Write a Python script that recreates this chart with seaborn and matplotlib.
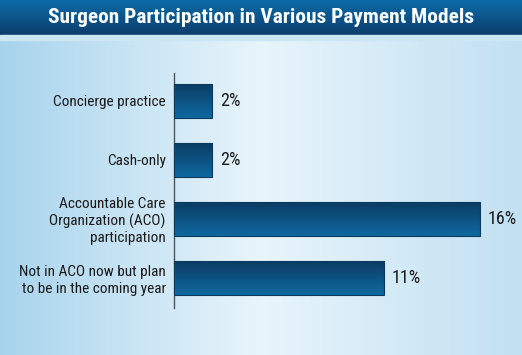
import numpy as np
import pandas as pd
import matplotlib
matplotlib.use("Agg")
import matplotlib.pyplot as plt
import seaborn as sns
from matplotlib.colors import LinearSegmentedColormap

categories = ["Concierge practice",
              "Cash-only",
              "Accountable Care\nOrganization (ACO)\nparticipation",
              "Not in ACO now but plan\nto be in the coming year"]
values = [2, 2, 16, 11]
value_labels = ["2%", "2%", "16%", "11%"]
title = "Surgeon Participation in Various Payment Models"

sns.set_theme(style="white")
plt.rcParams['font.family'] = ['Roboto Condensed', 'DejaVu Sans']

W, H = 522, 355
fig = plt.figure(figsize=(W / 100, H / 100), dpi=100)

# background gradient
bg = fig.add_axes([0, 0, 1, 1], zorder=0)
bg.set_axis_off()
xs = np.linspace(0, 1, 300)
left = np.array([0.66, 0.83, 0.93])
mid = np.array([0.91, 0.96, 0.985])
right = np.array([0.76, 0.88, 0.95])
col = np.where(xs[:, None] < 0.5,
               left + (mid - left) * (xs[:, None] / 0.5),
               mid + (right - mid) * ((xs[:, None] - 0.5) / 0.5))
img = np.repeat(col[None, :, :], 10, axis=0)
bg.imshow(img, extent=[0, 1, 0, 1], aspect="auto")

# title banner
ban_top = np.array([0.05, 0.42, 0.66])
ban_bot = np.array([0.04, 0.24, 0.42])
t = np.linspace(0, 1, 50)[:, None]
ban = (ban_top + (ban_bot - ban_top) * t)[:, None, :]
bg.imshow(ban, extent=[0, 1, 1 - 35 / H, 1], aspect="auto", zorder=2)
bg.axhspan(1 - 40 / H, 1 - 35 / H, color=(0.80, 0.90, 0.96), zorder=2)
bg.text(0.5, 1 - 17.5 / H, title, color="white", fontsize=15.4, fontweight="bold",
        ha="center", va="center", zorder=3)
bg.set_xlim(0, 1); bg.set_ylim(0, 1)

# main axes
x0, x1 = 174, 520
y_top, y_bot = 73, 308
ax = fig.add_axes([x0 / W, 1 - y_bot / H, (x1 - x0) / W, (y_bot - y_top) / H], zorder=1)
ax.patch.set_alpha(0)
df = pd.DataFrame({"category": categories, "value": values})
sns.barplot(data=df, x="value", y="category", orient="h", color="#0b4f80",
            width=0.576, ax=ax, edgecolor="#0a3a5e", linewidth=0.8)

cmap = LinearSegmentedColormap.from_list("barg", ["#0a3b62", "#0f68a0"])
grad = np.linspace(0, 1, 64)[:, None]
for p in list(ax.patches):
    bx, by = p.get_x(), p.get_y()
    bw, bh = p.get_width(), p.get_height()
    im = ax.imshow(grad, cmap=cmap, aspect="auto",
                   extent=[bx, bx + bw, by + bh, by], zorder=2)
    im.set_clip_path(p)
    p.set_zorder(3)
    p.set_facecolor("none")

ax.set_xlim(0, (x1 - x0) / 19.1)
ax.set_ylim(3.51, -0.47)

for i, (v, lab) in enumerate(zip(values, value_labels)):
    ax.text(v + 0.4, i, lab, va="center", ha="left", fontsize=13, color="#1a1a1a")

ax.set_xlabel(""); ax.set_ylabel("")
ax.set_xticks([])
ax.tick_params(axis="y", length=0, pad=6, labelsize=11, labelcolor="#1a1a1a")
for lbl in ax.get_yticklabels():
    lbl.set_linespacing(1.2)
for s in ["top", "right", "bottom"]:
    ax.spines[s].set_visible(False)
ax.spines["left"].set_color("#555555")
ax.spines["left"].set_linewidth(1.0)

fig.savefig("out.png", dpi=100)
